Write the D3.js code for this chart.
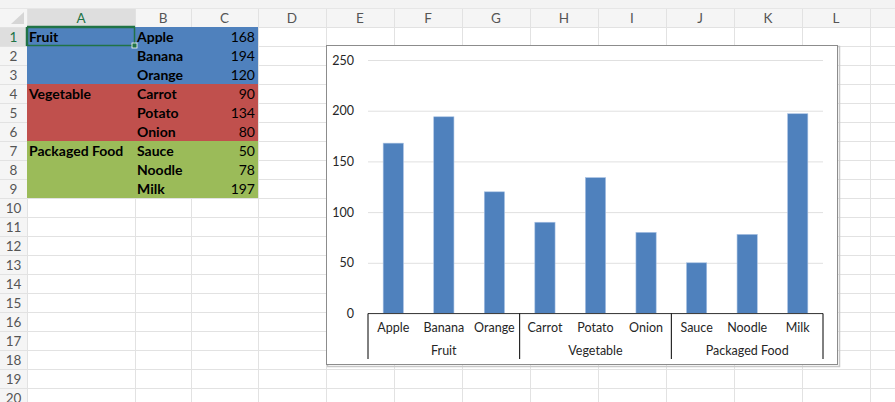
<!DOCTYPE html>
<html>
<head>
<meta charset="utf-8">
<script src="https://cdn.jsdelivr.net/npm/d3@7"></script>
<style>
  html, body { margin: 0; padding: 0; background: #fff; }
  svg { display: block; font-family: Lato, "Noto Sans", sans-serif; }
</style>
</head>
<body>
<svg id="sheet"></svg>
<script>
// data
const groups = ['Fruit', 'Vegetable', 'Packaged Food'];
const groupSizes = [3, 3, 3];
const items = ['Apple', 'Banana', 'Orange', 'Carrot', 'Potato', 'Onion', 'Sauce', 'Noodle', 'Milk'];
const values = [168, 194, 120, 90, 134, 80, 50, 78, 197];
const groupColors = ['#4f81bd', '#c0504d', '#9bbb59'];
const yTicks = [0, 50, 100, 150, 200, 250];
const colLetters = ['A', 'B', 'C', 'D', 'E', 'F', 'G', 'H', 'I', 'J', 'K', 'L'];

const width = 895, height = 402;
const svg = d3.select('#sheet').attr('width', width).attr('height', height);

// sheet grid geometry
const headerTop = 8, headerBottom = 27, rowH = 19, rowHeadW = 27;
const colEdges = [27, 135, 191, 258];
for (let i = 0; i < 10; i++) colEdges.push(326 + 68 * i);
const nRows = 20;
const rowTop = i => headerBottom + i * rowH;

svg.append('rect').attr('width', width).attr('height', height).attr('fill', '#fff');
svg.append('rect').attr('width', width).attr('height', headerTop).attr('fill', '#f3f3f3');
svg.append('rect').attr('y', headerTop).attr('width', width).attr('height', headerBottom - headerTop).attr('fill', '#f5f5f5');
svg.append('rect').attr('y', headerBottom).attr('width', rowHeadW).attr('height', height).attr('fill', '#f5f5f5');
// selected headers
svg.append('rect').attr('x', colEdges[0]).attr('y', headerTop).attr('width', colEdges[1] - colEdges[0])
    .attr('height', headerBottom - headerTop).attr('fill', '#dedede');
svg.append('rect').attr('x', 0).attr('y', rowTop(0)).attr('width', rowHeadW).attr('height', rowH).attr('fill', '#dedede');
svg.append('path')
    .attr('d', `M${rowHeadW - 3},${headerTop + 4} L${rowHeadW - 3},${headerBottom - 3} L${rowHeadW - 16},${headerBottom - 3} Z`)
    .attr('fill', '#d6d6d6');

const grid = svg.append('g').attr('stroke', '#e2e2e2').attr('stroke-width', 1).attr('shape-rendering', 'crispEdges');
colEdges.forEach(x => grid.append('line').attr('x1', x + 0.5).attr('x2', x + 0.5).attr('y1', headerTop).attr('y2', height));
for (let i = 0; i <= nRows; i++) {
    grid.append('line').attr('x1', 0).attr('x2', width).attr('y1', rowTop(i) + 0.5).attr('y2', rowTop(i) + 0.5);
}
svg.append('line').attr('x1', 0).attr('x2', width).attr('y1', headerTop + 0.5).attr('y2', headerTop + 0.5)
    .attr('stroke', '#e6e6e6');
svg.append('line').attr('x1', colEdges[0]).attr('x2', colEdges[1]).attr('y1', headerBottom - 0.5).attr('y2', headerBottom - 0.5)
    .attr('stroke', '#217346').attr('stroke-width', 1.5);
svg.append('line').attr('x1', rowHeadW - 0.5).attr('x2', rowHeadW - 0.5).attr('y1', rowTop(0)).attr('y2', rowTop(1))
    .attr('stroke', '#217346').attr('stroke-width', 1.5);

// column letters
svg.append('g').selectAll('text').data(colLetters).join('text')
    .attr('x', (d, i) => (colEdges[i] + colEdges[i + 1]) / 2)
    .attr('y', 22.5)
    .attr('text-anchor', 'middle')
    .attr('font-size', 13.5)
    .attr('fill', (d, i) => i === 0 ? '#217346' : '#555')
    .text(d => d);

// row numbers
svg.append('g').selectAll('text').data(d3.range(1, nRows + 1)).join('text')
    .attr('x', 13.5)
    .attr('y', d => rowTop(d - 1) + 14.5)
    .attr('text-anchor', 'middle')
    .attr('font-size', 13.5)
    .attr('fill', d => d === 1 ? '#217346' : '#555')
    .text(d => d);

// coloured data block
const itemGroup = [];
groupSizes.forEach((n, g) => { for (let k = 0; k < n; k++) itemGroup.push(g); });

const cells = svg.append('g');
cells.selectAll('rect').data(items).join('rect')
    .attr('x', colEdges[0]).attr('y', (d, i) => rowTop(i))
    .attr('width', colEdges[3] - colEdges[0]).attr('height', rowH)
    .attr('fill', (d, i) => groupColors[itemGroup[i]]);

let start = 0;
const groupStarts = groupSizes.map(n => { const s = start; start += n; return s; });

const cellText = svg.append('g').attr('font-size', 14).attr('font-weight', 700).attr('fill', '#000');
cellText.selectAll('.grp').data(groups).join('text')
    .attr('class', 'grp')
    .attr('x', colEdges[0] + 2)
    .attr('y', (d, g) => rowTop(groupStarts[g]) + 14.5)
    .text(d => d);
cellText.selectAll('.item').data(items).join('text')
    .attr('class', 'item')
    .attr('x', colEdges[1] + 2)
    .attr('y', (d, i) => rowTop(i) + 14.5)
    .text(d => d);
cellText.selectAll('.val').data(values).join('text')
    .attr('class', 'val')
    .attr('x', colEdges[3] - 3)
    .attr('y', (d, i) => rowTop(i) + 14.5)
    .attr('text-anchor', 'end')
    .attr('font-weight', 400)
    .text(d => d);

// active cell
svg.append('rect').attr('x', colEdges[0] + 0.5).attr('y', rowTop(0) + 0.5)
    .attr('width', colEdges[1] - colEdges[0] - 1).attr('height', rowH - 1)
    .attr('fill', 'none').attr('stroke', '#217346').attr('stroke-width', 1.5);
svg.append('rect').attr('x', colEdges[1] - 3).attr('y', rowTop(1) - 3).attr('width', 5).attr('height', 5)
    .attr('fill', '#217346').attr('stroke', '#fff').attr('stroke-width', 0.8);

// chart object
const chart = { x: 326, y: 45, w: 512, h: 320 };
svg.append('rect').attr('x', chart.x + 1.5).attr('y', chart.y + 1.5).attr('width', chart.w).attr('height', chart.h)
    .attr('fill', 'none').attr('stroke', '#c8c8c8').attr('stroke-width', 1.5);
svg.append('rect').attr('x', chart.x + 0.5).attr('y', chart.y + 0.5).attr('width', chart.w - 1).attr('height', chart.h - 1)
    .attr('fill', '#fff').attr('stroke', '#8c8c8c').attr('stroke-width', 1);

const plot = { left: 368, right: 823, top: 60, bottom: 313.5 };

const x = d3.scaleBand().domain(items).range([plot.left, plot.right])
    .paddingInner(0.6).paddingOuter(0.3);
const y = d3.scaleLinear().domain([0, 250]).range([plot.bottom, plot.top]);

// gridlines + value axis labels
const yAxis = d3.axisLeft(y).tickValues(yTicks).tickSize(-(plot.right - plot.left)).tickPadding(14);
const yg = svg.append('g').attr('transform', `translate(${plot.left},0)`).call(yAxis);
yg.select('.domain').remove();
yg.selectAll('.tick line').attr('stroke', '#e0e0e0');
yg.selectAll('.tick text').attr('font-family', 'Lato, "Noto Sans", sans-serif').attr('font-size', 12.5).attr('fill', '#262626');

// bars
svg.append('g').selectAll('rect').data(values).join('rect')
    .attr('x', (d, i) => x(items[i]))
    .attr('y', d => y(d))
    .attr('width', x.bandwidth())
    .attr('height', d => y(0) - y(d))
    .attr('fill', '#4f81bd')
    .attr('stroke', '#a7c1e3')
    .attr('stroke-width', 0.6);

// category axis (two levels)
svg.append('line').attr('x1', plot.left).attr('x2', plot.right).attr('y1', plot.bottom).attr('y2', plot.bottom)
    .attr('stroke', '#404040');

const axisText = svg.append('g').attr('font-size', 12.5).attr('fill', '#262626').attr('text-anchor', 'middle');
axisText.selectAll('.cat').data(items).join('text')
    .attr('class', 'cat')
    .attr('x', d => x(d) + x.bandwidth() / 2)
    .attr('y', 331.5)
    .text(d => d);

const step = x.step();
const bounds = [0, ...groupStarts.slice(1), items.length].map(k => plot.left + k * step);
svg.append('g').selectAll('line').data(bounds).join('line')
    .attr('x1', d => d).attr('x2', d => d)
    .attr('y1', plot.bottom).attr('y2', 359)
    .attr('stroke', '#000').attr('stroke-width', 1);

axisText.selectAll('.grpLabel').data(groups).join('text')
    .attr('class', 'grpLabel')
    .attr('x', (d, g) => (bounds[g] + bounds[g + 1]) / 2)
    .attr('y', 354.5)
    .text(d => d);
</script>
</body>
</html>
